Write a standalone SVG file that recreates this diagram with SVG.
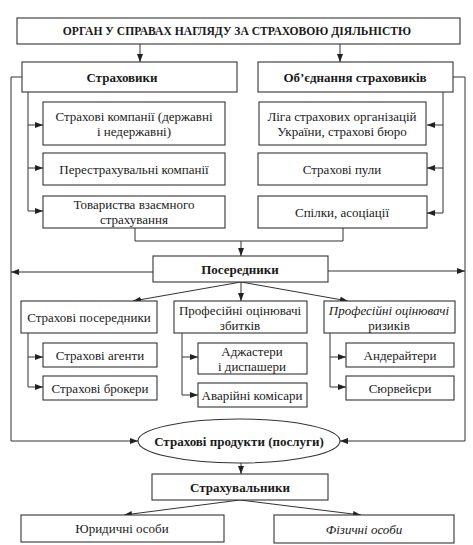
<svg xmlns="http://www.w3.org/2000/svg" width="473" height="545" viewBox="0 0 473 545">
<defs>
<marker id="ah" markerUnits="userSpaceOnUse" markerWidth="8" markerHeight="6" refX="8" refY="3" orient="auto">
<path d="M0,0 L8,3 L0,6 z" fill="#222"/>
</marker>
<style>
.box{fill:#fff;stroke:#333;stroke-width:1.1}
.t{font-family:"Liberation Serif","DejaVu Serif",serif;font-size:13px;fill:#1a1a1a;text-anchor:middle;dominant-baseline:central}
.b{font-weight:bold}
.i{font-style:italic}
.h{font-size:11.6px}
.c{fill:none;stroke:#333;stroke-width:1}
.a{marker-end:url(#ah)}
</style>
</defs>
<rect width="473" height="545" fill="#fff"/>
<g id="connectors">
<line class="c a" x1="140" y1="44" x2="140" y2="62"/>
<line class="c a" x1="340" y1="44" x2="340" y2="62"/>
<polyline class="c a" points="22,77 11,77 11,441 138,441"/>
<polyline class="c a" points="453,77 465,77 465,441 340,441"/>
<line class="c" x1="28" y1="92" x2="28" y2="211"/>
<line class="c a" x1="28" y1="125" x2="43" y2="125"/>
<line class="c a" x1="28" y1="168" x2="43" y2="168"/>
<line class="c a" x1="28" y1="211" x2="43" y2="211"/>
<line class="c" x1="443" y1="92" x2="443" y2="213"/>
<line class="c a" x1="443" y1="125" x2="427" y2="125"/>
<line class="c a" x1="443" y1="168" x2="427" y2="168"/>
<line class="c a" x1="443" y1="213" x2="427" y2="213"/>
<polyline class="c" points="135,228 135,241 343,241 343,228"/>
<line class="c a" x1="241" y1="241" x2="241" y2="256"/>
<line class="c a" x1="153" y1="272" x2="11" y2="272"/>
<line class="c a" x1="328" y1="271" x2="465" y2="271"/>
<line class="c a" x1="241" y1="282" x2="133" y2="301"/>
<line class="c a" x1="241" y1="282" x2="241" y2="301"/>
<line class="c a" x1="241" y1="282" x2="348" y2="301"/>
<line class="c" x1="28" y1="333" x2="28" y2="387"/>
<line class="c a" x1="28" y1="357" x2="43" y2="357"/>
<line class="c a" x1="28" y1="387" x2="43" y2="387"/>
<line class="c" x1="182" y1="333" x2="182" y2="395"/>
<line class="c a" x1="182" y1="357" x2="198" y2="357"/>
<line class="c a" x1="182" y1="395" x2="198" y2="395"/>
<line class="c" x1="330" y1="333" x2="330" y2="387"/>
<line class="c a" x1="330" y1="357" x2="346" y2="357"/>
<line class="c a" x1="330" y1="387" x2="346" y2="387"/>
<line class="c a" x1="241" y1="463" x2="241" y2="474"/>
<line class="c a" x1="240" y1="500" x2="124" y2="515"/>
<line class="c a" x1="240" y1="500" x2="361" y2="515"/>
</g>
<g id="organ"><rect class="box" x="17" y="18" width="443" height="26"/><text class="t b h" x="237" y="31">ОРГАН У СПРАВАХ НАГЛЯДУ ЗА СТРАХОВОЮ ДІЯЛЬНІСТЮ</text></g>
<g id="strakhovyky"><rect class="box" x="22" y="62" width="215" height="30"/><text class="t b" x="122" y="77">Страховики</text></g>
<g id="obiednannia"><rect class="box" x="258" y="62" width="195" height="30"/><text class="t b" x="355" y="77">Об’єднання страховиків</text></g>
<g id="kompanii"><rect class="box" x="43" y="102" width="182" height="43"/><text class="t" x="134" y="116.5">Страхові компанії (державні</text><text class="t" x="134" y="131">і недержавні)</text></g>
<g id="perestrakh"><rect class="box" x="43" y="153" width="182" height="32"/><text class="t" x="134" y="169">Перестрахувальні компанії</text></g>
<g id="tovarystva"><rect class="box" x="43" y="196" width="182" height="32"/><text class="t" x="134" y="204">Товариства взаємного</text><text class="t" x="134" y="219">страхування</text></g>
<g id="liga"><rect class="box" x="259" y="102" width="167" height="43"/><text class="t" x="342" y="116.5">Ліга страхових організацій</text><text class="t" x="342" y="131">України, страхові бюро</text></g>
<g id="puly"><rect class="box" x="258" y="153" width="169" height="32"/><text class="t" x="342" y="169">Страхові пули</text></g>
<g id="spilky"><rect class="box" x="258" y="196" width="169" height="32"/><text class="t" x="342" y="212">Спілки, асоціації</text></g>
<g id="poserednyky"><rect class="box" x="153" y="256" width="175" height="26"/><text class="t b" x="240" y="269">Посередники</text></g>
<g id="strakh-poser"><rect class="box" x="21" y="301" width="136" height="32"/><text class="t" x="89" y="317">Страхові посередники</text></g>
<g id="zbytky"><rect class="box" x="174" y="301" width="133" height="32"/><text class="t" x="240" y="310">Професійні оцінювачі</text><text class="t" x="240" y="325">збитків</text></g>
<g id="ryzyky"><rect class="box" x="324" y="301" width="131" height="32"/><text class="t i" x="389" y="310">Професійні оцінювачі</text><text class="t" x="389" y="325">ризиків</text></g>
<g id="agenty"><rect class="box" x="43" y="343" width="114" height="24"/><text class="t" x="100" y="355">Страхові агенти</text></g>
<g id="brokery"><rect class="box" x="43" y="376" width="114" height="24"/><text class="t" x="100" y="388">Страхові брокери</text></g>
<g id="adzhastery"><rect class="box" x="198" y="343" width="109" height="31"/><text class="t" x="252" y="351">Аджастери</text><text class="t" x="252" y="366">і диспашери</text></g>
<g id="avariini"><rect class="box" x="198" y="383" width="109" height="24"/><text class="t" x="252" y="395">Аварійні комісари</text></g>
<g id="anderaitery"><rect class="box" x="346" y="343" width="108" height="24"/><text class="t" x="400" y="355">Андерайтери</text></g>
<g id="siurveiery"><rect class="box" x="346" y="376" width="108" height="24"/><text class="t" x="400" y="388">Сюрвейєри</text></g>
<g id="produkty"><ellipse class="box" cx="239" cy="441" rx="101" ry="22"/><text class="t b" x="239" y="441">Страхові продукти (послуги)</text></g>
<g id="strakhuvalnyky"><rect class="box" x="152" y="474" width="176" height="26"/><text class="t b" x="240" y="487">Страхувальники</text></g>
<g id="yurydychni"><rect class="box" x="21" y="515" width="203" height="27"/><text class="t" x="122" y="528.5">Юридичні особи</text></g>
<g id="fizychni"><rect class="box" x="274" y="515" width="180" height="28"/><text class="t i" x="364" y="529">Фізичні особи</text></g>
</svg>
